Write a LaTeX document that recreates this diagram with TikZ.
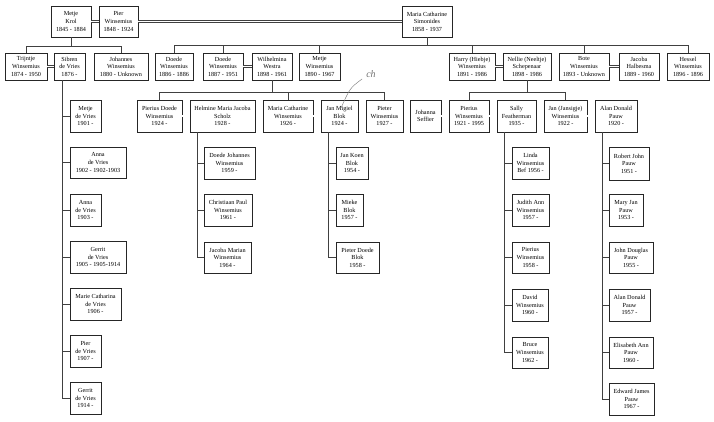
\documentclass[tikz,border=0pt]{standalone}
\usepackage{fontspec}
\setmainfont{Liberation Serif}
\begin{document}
\begin{tikzpicture}[x=1pt,y=-1pt,
  pbox/.style={draw=black!85,line width=0.7pt,fill=white,align=center,inner sep=0pt,
    font=\fontsize{6.2}{7.6}\selectfont},
  conn/.style={draw=black!75,line width=0.6pt},
  spouse/.style={draw=black!75,line width=0.5pt,double=white,double distance=1.6pt},
  hand/.style={font=\itshape\fontsize{10}{10}\selectfont,text=black!55}]
\useasboundingbox[fill=white] (0,0) rectangle (714,421);
\newcommand{\pbx}[6]{\node[pbox,minimum width={(#4-#2)*1pt},minimum height={(#5-#3)*1pt}] (#1) at ({(#2+#4)/2},{(#3+#5)/2}) {#6};}
% row 1
\pbx{metje}{51}{6}{91}{37}{Metje\\Krol\\1845 - 1884}
\pbx{pier}{99}{6}{138}{37}{Pier\\Winsemius\\1848 - 1924}
\pbx{maria}{402}{6}{452}{37}{Maria Catharine\\Simonides\\1858 - 1937}
% row 2
\pbx{trijntje}{5}{53}{47}{80}{Trijntje\\Winsemius\\1874 - 1950}
\pbx{sibren}{54}{53}{85}{80}{Sibren\\de Vries\\1876 -}
\pbx{johannes}{94}{53}{148}{80}{Johannes\\Winsemius\\1880 - Unknown}
\pbx{doedeA}{155}{53}{193}{80}{Doede\\Winsemius\\1886 - 1886}
\pbx{doedeB}{203}{53}{243}{80}{Doede\\Winsemius\\1887 - 1951}
\pbx{wilhelmina}{252}{53}{292}{80}{Wilhelmina\\Westra\\1898 - 1961}
\pbx{metjeW}{299}{53}{340}{80}{Metje\\Winsemius\\1890 - 1967}
\pbx{harry}{449}{53}{495}{80}{Harry (Hiebje)\\Winsemius\\1891 - 1986}
\pbx{nellie}{503}{53}{551}{80}{Nellie (Neeltje)\\Schepenaar\\1898 - 1986}
\pbx{bote}{559}{53}{609}{80}{Bote\\Winsemius\\1893 - Unknown}
\pbx{jacoba}{619}{53}{659}{80}{Jacoba\\Halbesma\\1889 - 1960}
\pbx{hessel}{667}{53}{709}{80}{Hessel\\Winsemius\\1896 - 1896}
% row 3
\pbx{pieriusD}{137}{100}{182}{132}{Pierius Doede\\Winsemius\\1924 -}
\pbx{helmine}{190}{100}{255}{132}{Helmine Maria Jacoba\\Scholz\\1928 -}
\pbx{mariaW}{263}{100}{313}{132}{Maria Catharine\\Winsemius\\1926 -}
\pbx{janM}{321}{100}{358}{132}{Jan Migiel\\Blok\\1924 -}
\pbx{pieter}{366}{100}{403}{132}{Pieter\\Winsemius\\1927 -}
\pbx{johanna}{410}{100}{441}{132}{Johanna\\Seffier}
\pbx{pieriusW}{449}{100}{489}{132}{Pierius\\Winsemius\\1921 - 1995}
\pbx{sally}{497}{100}{536}{132}{Sally\\Featherman\\1935 -}
\pbx{jan}{544}{100}{587}{132}{Jan (Jansigje)\\Winsemius\\1922 -}
\pbx{alan}{595}{100}{637}{132}{Alan Donald\\Pauw\\1920 -}
% de Vries children
\pbx{c1}{70}{100}{101}{132}{Metje\\de Vries\\1901 -}
\pbx{c2}{70}{147}{126}{178}{Anna\\de Vries\\1902 - 1902-1903}
\pbx{c3}{70}{194}{101}{226}{Anna\\de Vries\\1903 -}
\pbx{c4}{70}{241}{126}{273}{Gerrit\\de Vries\\1905 - 1905-1914}
\pbx{c5}{70}{288}{121}{320}{Marie Catharina\\de Vries\\1906 -}
\pbx{c6}{70}{335}{101}{367}{Pier\\de Vries\\1907 -}
\pbx{c7}{70}{382}{101}{414}{Gerrit\\de Vries\\1914 -}
% Pierius Doede children
\pbx{h1}{204}{147}{255}{179}{Doede Johannes\\Winsemius\\1959 -}
\pbx{h2}{204}{194}{252}{226}{Christiaan Paul\\Winsemius\\1961 -}
\pbx{h3}{204}{242}{251}{273}{Jacoba Marian\\Winsemius\\1964 -}
% Blok children
\pbx{b1}{336}{147}{368}{179}{Jan Koen\\Blok\\1954 -}
\pbx{b2}{336}{194}{363}{226}{Mieke\\Blok\\1957 -}
\pbx{b3}{336}{242}{379}{273}{Pieter Doede\\Blok\\1958 -}
% Pierius + Sally children
\pbx{s1}{512}{147}{549}{179}{Linda\\Winsemius\\Bef 1956 -}
\pbx{s2}{512}{194}{549}{226}{Judith Ann\\Winsemius\\1957 -}
\pbx{s3}{512}{242}{549}{273}{Pierius\\Winsemius\\1958 -}
\pbx{s4}{512}{289}{548}{321}{David\\Winsemius\\1960 -}
\pbx{s5}{512}{337}{548}{368}{Bruce\\Winsemius\\1962 -}
% Jan + Alan children
\pbx{a1}{609}{147}{649}{180}{Robert John\\Pauw\\1951 -}
\pbx{a2}{609}{194}{643}{226}{Mary Jan\\Pauw\\1953 -}
\pbx{a3}{609}{242}{653}{273}{John Douglas\\Pauw\\1955 -}
\pbx{a4}{609}{289}{650}{321}{Alan Donald\\Pauw\\1957 -}
\pbx{a5}{609}{337}{653}{368}{Elisabeth Ann\\Pauw\\1960 -}
\pbx{a6}{609}{383}{654}{415}{Edward James\\Pauw\\1967 -}
% spouse links
\draw[spouse] (metje.east) -- (pier.west);
\draw[spouse] (pier.east) -- (maria.west);
\draw[spouse] (trijntje.east) -- (sibren.west);
\draw[spouse] (doedeB.east) -- (wilhelmina.west);
\draw[spouse] (harry.east) -- (nellie.west);
\draw[spouse] (bote.east) -- (jacoba.west);
\draw[spouse] (pieriusD.east) -- (helmine.west);
\draw[spouse] (mariaW.east) -- (janM.west);
\draw[spouse] (johanna.east) -- (pieriusW.west);
\draw[spouse] (pieriusW.east) -- (sally.west);
\draw[spouse] (jan.east) -- (alan.west);
% bus coordinates
\coordinate (busA) at (0,46);
\coordinate (busB) at (0,45);
\coordinate (busC) at (0,92);
% Metje Krol children
\draw[conn] (metje.south) -- (metje.south |- busA);
\draw[conn] (trijntje.north) |- (busA -| johannes.north) -- (johannes.north);
% Maria Simonides children
\draw[conn] (maria.south) -- (maria.south |- busB);
\draw[conn] (doedeA.north) |- (busB -| hessel.north) -- (hessel.north);
\foreach \n in {doedeB,metjeW,harry,bote}{\draw[conn] (\n.north) -- (\n.north |- busB);}
% Wilhelmina children
\draw[conn] (wilhelmina.south) -- (wilhelmina.south |- busC);
\draw[conn] (pieriusD.north) |- (busC -| pieter.north) -- (pieter.north);
\draw[conn] (mariaW.north) -- (mariaW.north |- busC);
% Nellie children
\draw[conn] (nellie.south) -- (nellie.south |- busC);
\draw[conn] (pieriusW.north) |- (busC -| jan.north) -- (jan.north);
% trunks
\coordinate (tS) at (62,0);
\coordinate (tH) at (197,0);
\coordinate (tB) at (328,0);
\coordinate (tP) at (504,0);
\coordinate (tA) at (602,0);
\draw[conn] (sibren.south -| tS) -- (c7.west -| tS);
\foreach \n in {c1,c2,c3,c4,c5,c6,c7}{\draw[conn] (\n.west) -- (\n.west -| tS);}
\draw[conn] (helmine.south -| tH) -- (h3.west -| tH);
\foreach \n in {h1,h2,h3}{\draw[conn] (\n.west) -- (\n.west -| tH);}
\draw[conn] (janM.south -| tB) -- (b3.west -| tB);
\foreach \n in {b1,b2,b3}{\draw[conn] (\n.west) -- (\n.west -| tB);}
\draw[conn] (sally.south -| tP) -- (s5.west -| tP);
\foreach \n in {s1,s2,s3,s4,s5}{\draw[conn] (\n.west) -- (\n.west -| tP);}
\draw[conn] (alan.south -| tA) -- (a6.west -| tA);
\foreach \n in {a1,a2,a3,a4,a5,a6}{\draw[conn] (\n.west) -- (\n.west -| tA);}
% handwritten note
\node[hand] (hw) at (371,74) {ch};
\coordinate (hwend) at (341,108);
\draw[draw=black!55,line width=0.4pt] (362,79) .. controls (350,88) .. (hwend);
\end{tikzpicture}
\end{document}
